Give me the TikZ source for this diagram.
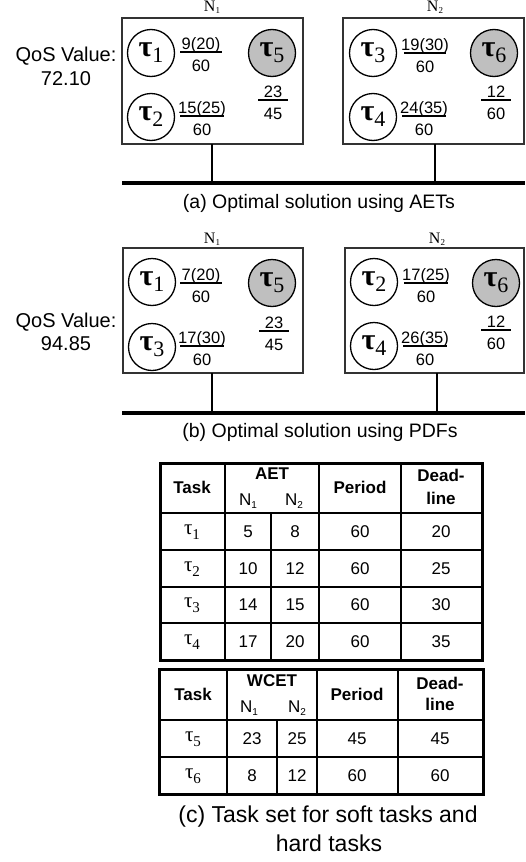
\documentclass[tikz,border=0pt]{standalone}
\usepackage{fontspec}
\setmainfont{Liberation Sans}
\newfontfamily\taufont{Liberation Serif}
\newcommand\fsz[1]{\fontsize{#1}{#1}\selectfont}
\newcommand\tauC[1]{{\taufont\fsz{30}\textbf{τ}\raisebox{-6pt}{\fsz{22}#1}}}
\newcommand\tauT[1]{{\taufont\fsz{21}τ\raisebox{-5pt}{\fsz{15}#1}}}
\newcommand\Nlab[1]{{\taufont\fsz{16}N\raisebox{-2pt}{\fsz{9}#1}}}
\newcommand\NT[1]{{\fsz{17}N\raisebox{-3pt}{\fsz{10}#1}}}
\newcommand\myfrac[6]{%
  \node[fracnum] (#1n) at (#2,#3-3) {#5};
  \node[fracnum] (#1d) at (#2,#3+19) {#6};
  \draw[fracbar] (#2-#4,#3) -- (#2+#4,#3);
}
\tikzset{
  nodebox/.style={draw=black!80, line width=1.6pt},
  taucirc/.style={circle, draw, line width=1.3pt, minimum size=47pt, inner sep=0pt},
  hardtask/.style={taucirc, fill=black!25},
  fracnum/.style={anchor=base, inner sep=0pt, font=\fsz{16.5}},
  fracbar/.style={line width=1.4pt},
  bus/.style={line width=4pt},
  link/.style={line width=1.3pt},
  nlabel/.style={inner sep=0pt},
  qos/.style={inner sep=0pt, font=\fsz{20}},
  caption/.style={inner sep=0pt, font=\fsz{19.5}},
  captionc/.style={inner sep=0pt, font=\fsz{23}},
  cell/.style={inner sep=0pt, font=\fsz{17}},
  hcell/.style={inner sep=0pt, font=\bfseries\fsz{17}},
  tblin/.style={line width=1.4pt},
  tblout/.style={line width=3pt},
}
\begin{document}
\begin{tikzpicture}[x=1pt,y=-1pt]
\useasboundingbox (0,0) rectangle (525,862);
% ===== (a) =====
\draw[nodebox] (122,18) rectangle (303,144);
\draw[nodebox] (343,18) rectangle (524,144);
\node[nlabel] (na1) at (212,7) {\Nlab{1}};
\node[nlabel] (na2) at (435,7) {\Nlab{2}};
\node[qos] (qa1) at (66,56) {QoS Value:};
\node[qos] (qa2) at (66,79) {72.10};
\node[taucirc] (a1) at (151,53) {\tauC{1}};
\node[taucirc] (a2) at (151,117) {\tauC{2}};
\node[hardtask] (a5) at (272,53) {\tauC{5}};
\node[taucirc] (a3) at (373,53) {\tauC{3}};
\node[taucirc] (a4) at (373,117) {\tauC{4}};
\node[hardtask] (a6) at (494,53) {\tauC{6}};
\myfrac{fa1}{201}{52}{21}{9(20)}{60}
\myfrac{fa2}{202}{116}{22}{15(25)}{60}
\myfrac{fa5}{273}{100}{15}{23}{45}
\myfrac{fa3}{425}{53}{21}{19(30)}{60}
\myfrac{fa4}{424}{116}{22}{24(35)}{60}
\myfrac{fa6}{496}{100}{15}{12}{60}
\coordinate (ba0) at (122,183);
\coordinate (ba1) at (525,183);
\coordinate (ta1) at (212,144);
\coordinate (ta2) at (435,144);
\draw[bus] (ba0) -- (ba1);
\draw[link] (ta1) -- (ta1 |- ba0);
\draw[link] (ta2) -- (ta2 |- ba0);
\node[caption] (capa) at (319,203) {(a) Optimal solution using AETs};
% ===== (b) =====
\draw[nodebox] (123,248) rectangle (303,373);
\draw[nodebox] (345,248) rectangle (524,373);
\node[nlabel] (nb1) at (212,239) {\Nlab{1}};
\node[nlabel] (nb2) at (437,239) {\Nlab{2}};
\node[qos] (qb1) at (66,322) {QoS Value:};
\node[qos] (qb2) at (66,344) {94.85};
\node[taucirc] (b1) at (152,282) {\tauC{1}};
\node[taucirc] (b3) at (152,347) {\tauC{3}};
\node[hardtask] (b5) at (272,283) {\tauC{5}};
\node[taucirc] (b2) at (374,282) {\tauC{2}};
\node[taucirc] (b4) at (374,346) {\tauC{4}};
\node[hardtask] (b6) at (496,283) {\tauC{6}};
\myfrac{fb1}{201}{283}{21}{7(20)}{60}
\myfrac{fb3}{202}{346}{22}{17(30)}{60}
\myfrac{fb5}{274}{331}{15}{23}{45}
\myfrac{fb2}{426}{283}{22}{17(25)}{60}
\myfrac{fb4}{425}{346}{22}{26(35)}{60}
\myfrac{fb6}{496}{330}{15}{12}{60}
\coordinate (bb0) at (122,413);
\coordinate (bb1) at (525,413);
\coordinate (tb1) at (212,373);
\coordinate (tb2) at (437,373);
\draw[bus] (bb0) -- (bb1);
\draw[link] (tb1) -- (tb1 |- bb0);
\draw[link] (tb2) -- (tb2 |- bb0);
\node[caption] (capb) at (320,432) {(b) Optimal solution using PDFs};
% ===== table 1 =====
\draw[tblin] (225,463) -- (225,660) (319,463) -- (319,660) (401,463) -- (401,660) (271,513) -- (271,660);
\draw[tblin] (160,513) -- (482,513) (160,550) -- (482,550) (160,587) -- (482,587) (160,623) -- (482,623);
\draw[tblout] (160,463) rectangle (482,660);
\node[hcell] (h1t) at (192,487) {Task};
\node[hcell] (h1a) at (272,474) {AET};
\node[cell] (h1n1) at (248,501) {\NT{1}};
\node[cell] (h1n2) at (294,501) {\NT{2}};
\node[hcell] (h1p) at (360,487) {Period};
\node[hcell] (h1d) at (441,475) {Dead-};
\node[hcell] (h1l) at (441,498) {line};
\foreach \t/\a/\b/\d/\y in {1/5/8/20/532,2/10/12/25/569,3/14/15/30/605,4/17/20/35/642}{
  \node[cell] (r\t t) at (192,\y) {\tauT{\t}};
  \node[cell] (r\t a) at (248,\y) {\a};
  \node[cell] (r\t b) at (295,\y) {\b};
  \node[cell] (r\t p) at (360,\y) {60};
  \node[cell] (r\t d) at (441,\y) {\d};
}
% ===== table 2 =====
\draw[tblin] (227,669) -- (227,794) (317,669) -- (317,794) (398,669) -- (398,794) (277,720) -- (277,794);
\draw[tblin] (159,720) -- (483,720) (159,757) -- (483,757);
\draw[tblout] (159,669) rectangle (483,794);
\node[hcell] (h2t) at (193,694) {Task};
\node[hcell] (h2a) at (272,681) {WCET};
\node[cell] (h2n1) at (249,708) {\NT{1}};
\node[cell] (h2n2) at (297,708) {\NT{2}};
\node[hcell] (h2p) at (357,694) {Period};
\node[hcell] (h2d) at (440,683) {Dead-};
\node[hcell] (h2l) at (440,704) {line};
\foreach \t/\a/\b/\p/\y in {5/23/25/45/739,6/8/12/60/776}{
  \node[cell] (s\t t) at (193,\y) {\tauT{\t}};
  \node[cell] (s\t a) at (252,\y) {\a};
  \node[cell] (s\t b) at (297,\y) {\b};
  \node[cell] (s\t p) at (357,\y) {\p};
  \node[cell] (s\t d) at (440,\y) {\p};
}
\node[captionc] (capc1) at (328,817) {(c) Task set for soft tasks and};
\node[captionc] (capc2) at (329,843) {hard tasks};
\end{tikzpicture}
\end{document}
